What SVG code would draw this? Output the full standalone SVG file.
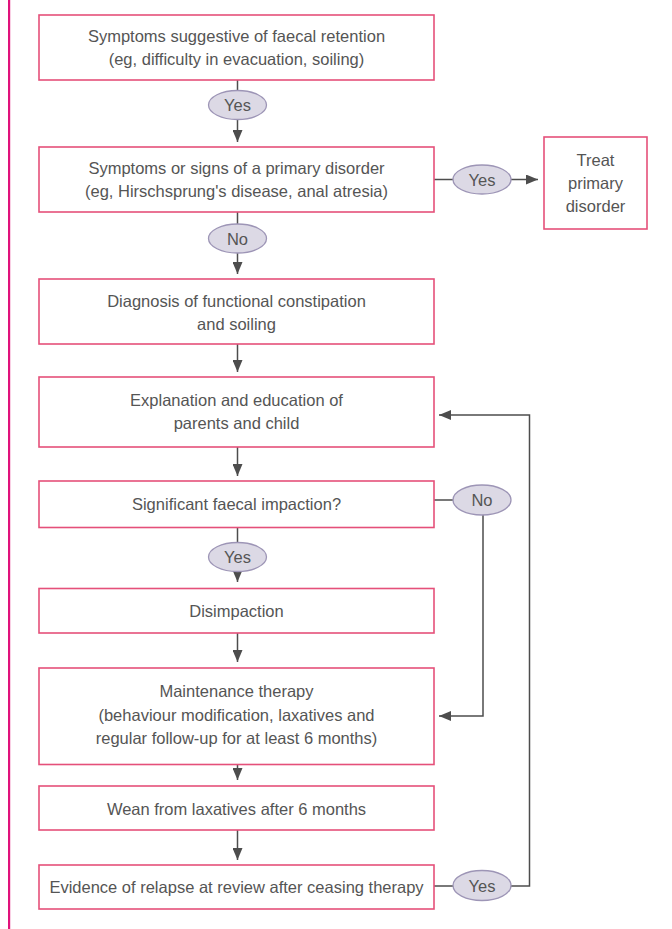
<svg xmlns="http://www.w3.org/2000/svg" width="672" height="929" viewBox="0 0 672 929">
<defs>
<marker id="ah" viewBox="0 0 12 10" refX="12" refY="5" markerWidth="12" markerHeight="10" markerUnits="userSpaceOnUse" orient="auto">
<path d="M0,0 L12,5 L0,10 z" fill="#4d4d4d"/>
</marker>
<style>
.box{fill:#fff;stroke:#e5507a;stroke-width:1.6}
.t{font-family:"Liberation Sans",Arial,sans-serif;font-size:16.5px;fill:#555;text-anchor:middle}
.ell{fill:#dcd9e5;stroke:#9d95b6;stroke-width:1.3}
.c{fill:none;stroke:#4d4d4d;stroke-width:1.5}
.ca{fill:none;stroke:#4d4d4d;stroke-width:1.5;marker-end:url(#ah)}
</style>
</defs>
<rect x="8" y="0" width="2.2" height="929" fill="#e0127b"/>
<g id="connectors">
<line class="ca" x1="237.5" y1="80" x2="237.5" y2="142"/>
<line class="ca" x1="237.5" y1="212" x2="237.5" y2="274"/>
<line class="ca" x1="237.5" y1="344" x2="237.5" y2="372"/>
<line class="ca" x1="237.5" y1="447" x2="237.5" y2="476"/>
<line class="ca" x1="237.5" y1="527.5" x2="237.5" y2="582"/>
<line class="ca" x1="237.5" y1="633" x2="237.5" y2="662"/>
<line class="ca" x1="237.5" y1="764.5" x2="237.5" y2="780"/>
<line class="ca" x1="237.5" y1="830" x2="237.5" y2="860"/>
<line class="ca" x1="434" y1="179.5" x2="538" y2="179.5"/>
<line class="c" x1="434" y1="500" x2="460" y2="500"/>
<polyline class="ca" points="483,500 483,716 439,716"/>
<polyline class="ca" points="434,886 529.5,886 529.5,415 439,415"/>
</g>
<g id="n1"><rect class="box" x="39" y="15" width="395" height="65"/>
<text class="t" x="236.5" y="41.5">Symptoms suggestive of faecal retention</text>
<text class="t" x="236.5" y="64.5">(eg, difficulty in evacuation, soiling)</text></g>
<g id="l1"><ellipse class="ell" cx="237.5" cy="105" rx="29" ry="14.5"/><text class="t" x="237.5" y="111">Yes</text></g>
<g id="n2"><rect class="box" x="39" y="147" width="395" height="65"/>
<text class="t" x="236.5" y="174">Symptoms or signs of a primary disorder</text>
<text class="t" x="236.5" y="197">(eg, Hirschsprung's disease, anal atresia)</text></g>
<g id="l2"><ellipse class="ell" cx="482" cy="179.5" rx="29" ry="14.5"/><text class="t" x="482" y="185.5">Yes</text></g>
<g id="n2b"><rect class="box" x="544" y="137" width="103" height="92"/>
<text class="t" x="595.5" y="166">Treat</text>
<text class="t" x="595.5" y="189">primary</text>
<text class="t" x="595.5" y="212">disorder</text></g>
<g id="l3"><ellipse class="ell" cx="237.5" cy="238.5" rx="29" ry="14.5"/><text class="t" x="237.5" y="244.5">No</text></g>
<g id="n3"><rect class="box" x="39" y="279" width="395" height="65"/>
<text class="t" x="236.5" y="307">Diagnosis of functional constipation</text>
<text class="t" x="236.5" y="330">and soiling</text></g>
<g id="n4"><rect class="box" x="39" y="377" width="395" height="70"/>
<text class="t" x="236.5" y="406">Explanation and education of</text>
<text class="t" x="236.5" y="429">parents and child</text></g>
<g id="n5"><rect class="box" x="39" y="481" width="395" height="46.5"/>
<text class="t" x="236.5" y="510">Significant faecal impaction?</text></g>
<g id="l4"><ellipse class="ell" cx="482" cy="500" rx="29" ry="15"/><text class="t" x="482" y="506">No</text></g>
<g id="l5"><ellipse class="ell" cx="237.5" cy="557" rx="29" ry="14.5"/><text class="t" x="237.5" y="563">Yes</text></g>
<g id="n6"><rect class="box" x="39" y="588.5" width="395" height="44.5"/>
<text class="t" x="236.5" y="617">Disimpaction</text></g>
<g id="n7"><rect class="box" x="39" y="668" width="395" height="96.5"/>
<text class="t" x="236.5" y="697">Maintenance therapy</text>
<text class="t" x="236.5" y="720.5">(behaviour modification, laxatives and</text>
<text class="t" x="236.5" y="744">regular follow-up for at least 6 months)</text></g>
<g id="n8"><rect class="box" x="39" y="786" width="395" height="44"/>
<text class="t" x="236.5" y="814.5">Wean from laxatives after 6 months</text></g>
<g id="n9"><rect class="box" x="39" y="865" width="395" height="44"/>
<text class="t" x="236.5" y="893">Evidence of relapse at review after ceasing therapy</text></g>
<g id="l6"><ellipse class="ell" cx="482" cy="885.5" rx="29" ry="15"/><text class="t" x="482" y="891.5">Yes</text></g>
</svg>
